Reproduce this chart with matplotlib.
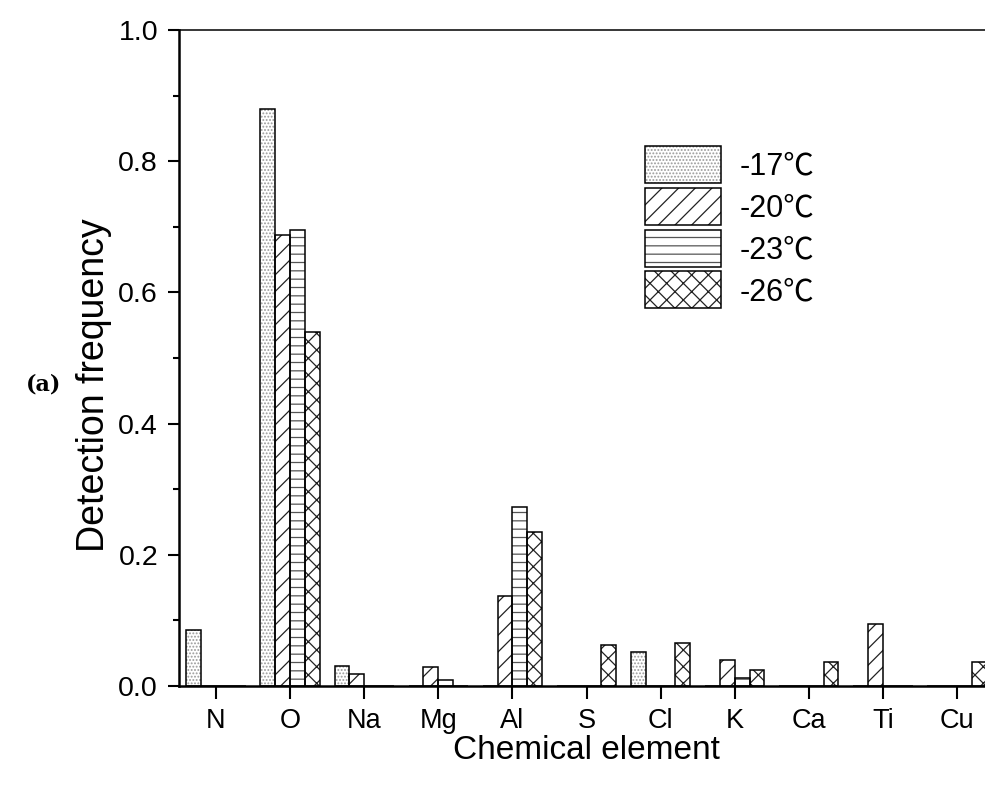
import numpy as np
import matplotlib
matplotlib.use("Agg")
import matplotlib.pyplot as plt
from matplotlib.legend_handler import HandlerTuple
from matplotlib.ticker import MultipleLocator, FormatStrFormatter

plt.rcParams['font.family'] = ['Liberation Sans', 'Noto Sans CJK SC', 'DejaVu Sans']
plt.rcParams['hatch.linewidth'] = 0.9

elements = ['N', 'O', 'Na', 'Mg', 'Al', 'S', 'Cl', 'K', 'Ca', 'Ti', 'Cu']
series_labels = ['-17℃', '-20℃', '-23℃', '-26℃']
t17 = [0.085, 0.879, 0.031, 0.0, 0.0, 0.0, 0.052, 0.0, 0.0, 0.0, 0.0]
t20 = [0.0, 0.687, 0.018, 0.029, 0.137, 0.0, 0.0, 0.039, 0.0, 0.094, 0.0]
t23 = [0.0, 0.695, 0.0, 0.009, 0.273, 0.0, 0.0, 0.012, 0.0, 0.0, 0.0]
t26 = [0.0, 0.540, 0.0, 0.0, 0.235, 0.062, 0.066, 0.024, 0.036, 0.0, 0.036]
series = [t17, t20, t23, t26]

hatches = ['.....', '//', '--', 'xx']
hatch_colors = ['#9a9a9a', '#222222', '#555555', '#222222']

W, H = 985, 785
fig = plt.figure(figsize=(W / 100, H / 100), dpi=100)
x0_px = 216 - 0.5 * 74.1
ax = fig.add_axes([x0_px / W, (H - 686) / H, 11 * 74.1 / W, 656 / H])

x = np.arange(len(elements))
bw = 0.2
handles = []
for i, (vals, lab) in enumerate(zip(series, series_labels)):
    off = (i - 1.5) * bw
    hb = ax.bar(x + off, vals, bw, color='white', edgecolor=hatch_colors[i],
                hatch=hatches[i], linewidth=0, zorder=2)
    ob = ax.bar(x + off, vals, bw, fill=False, edgecolor='black',
                linewidth=1.1, zorder=3)
    handles.append((hb.patches[0], ob.patches[0]))

ax.set_xlim(-0.5, 10.5)
ax.set_ylim(0, 1.0)
ax.set_xticks(x)
ax.set_xticklabels(elements)
ax.yaxis.set_major_locator(MultipleLocator(0.2))
ax.yaxis.set_minor_locator(MultipleLocator(0.1))
ax.yaxis.set_major_formatter(FormatStrFormatter('%.1f'))

ax.spines['right'].set_visible(False)
ax.spines['left'].set_linewidth(1.8)
ax.spines['bottom'].set_linewidth(1.8)
ax.spines['top'].set_linewidth(1.1)
for s in ax.spines.values():
    s.set_zorder(5)

ax.tick_params(axis='y', which='major', direction='out', length=8, width=1.5,
               labelsize=20.5, pad=7, right=False)
ax.tick_params(axis='y', which='minor', direction='out', length=4.3, width=1.5, right=False)
ax.tick_params(axis='x', which='major', direction='out', length=9, width=1.5,
               labelsize=19.5, pad=7, top=False)

ax.set_xlabel('Chemical element', fontsize=24, labelpad=0.5)
ax.set_ylabel('Detection frequency', fontsize=27)
ax.yaxis.set_label_coords((112 - x0_px) / (11 * 74.1), (686 - 385) / 656)

leg = ax.legend(handles, series_labels, handler_map={tuple: HandlerTuple(ndivide=1)},
                loc='upper left', bbox_to_anchor=(645 / W, 1 - 146 / H),
                bbox_transform=fig.transFigure, frameon=False, fontsize=22,
                handlelength=2.49, handleheight=1.483, handletextpad=0.6,
                labelspacing=0.16, borderpad=0, borderaxespad=0)

fig.text(26 / W, 1 - 384 / H, '(a)', fontsize=16, fontweight='bold',
         family='DejaVu Serif', va='center', ha='left')

fig.savefig('out.png', dpi=100)
